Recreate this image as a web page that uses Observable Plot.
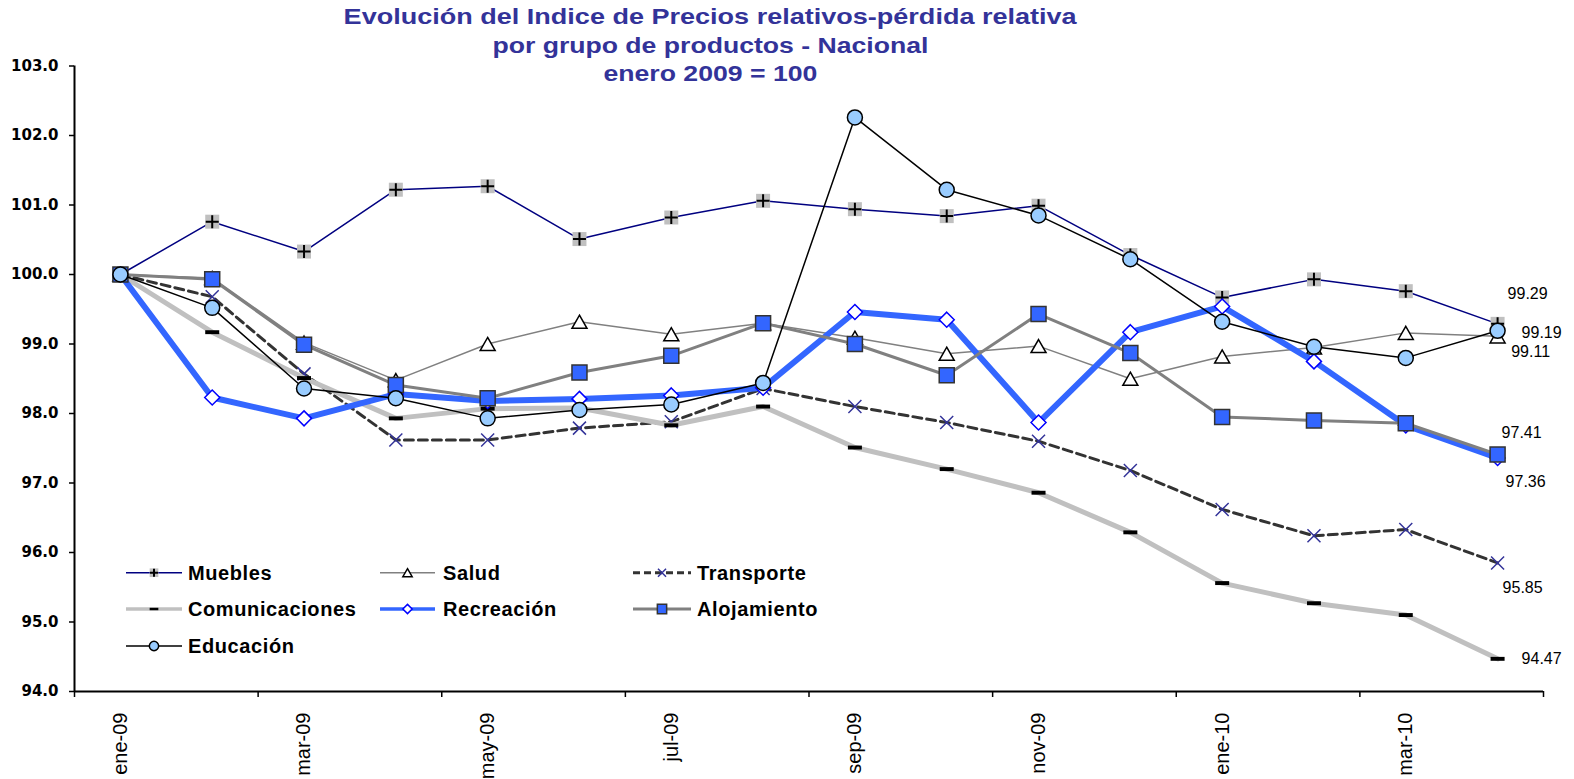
<!DOCTYPE html>
<html><head><meta charset="utf-8">
<script src="https://cdn.jsdelivr.net/npm/d3@7"></script>
<script src="https://cdn.jsdelivr.net/npm/@observablehq/plot@0.6"></script>
<style>
body{margin:0;background:#fff;}
#wrap{position:relative;width:1574px;height:779px;}
#title{position:absolute;left:0;top:3px;width:1420px;text-align:center;font-family:"Liberation Sans",Arial,sans-serif;font-weight:bold;font-size:22.5px;color:#333399;line-height:28.5px;}
#title span{display:inline-block;white-space:nowrap;transform-origin:50% 50%;}
#chart{position:absolute;left:0;top:0;}
</style></head><body>
<div id="wrap"><div id="chart"></div><div id="title"><span data-w="733">Evolución del Indice de Precios relativos-pérdida relativa</span><br><span data-w="436">por grupo de productos - Nacional</span><br><span data-w="214">enero 2009 = 100</span></div></div>
<script>
const months = ["ene-09","feb-09","mar-09","abr-09","may-09","jun-09","jul-09","ago-09","sep-09","oct-09","nov-09","dic-09","ene-10","feb-10","mar-10","abr-10"];
const labelMonths = ["ene-09","mar-09","may-09","jul-09","sep-09","nov-09","ene-10","mar-10"];
const yTicks = [94,95,96,97,98,99,100,101,102,103];

const muebles        = [100, 100.76, 100.33, 101.22, 101.27, 100.51, 100.82, 101.06, 100.94, 100.84, 100.99, 100.28, 99.67, 99.93, 99.76, 99.29];
const salud          = [100, 99.95, 99.02, 98.48, 99.00, 99.32, 99.14, 99.30, 99.09, 98.86, 98.97, 98.50, 98.82, 98.95, 99.16, 99.11];
const transporte     = [100, 99.68, 98.57, 97.62, 97.62, 97.79, 97.88, 98.36, 98.10, 97.87, 97.60, 97.18, 96.62, 96.24, 96.33, 95.85];
const comunicaciones = [100, 99.17, 98.51, 97.93, 98.07, 98.08, 97.83, 98.10, 97.51, 97.20, 96.86, 96.29, 95.56, 95.27, 95.10, 94.47];
const recreacion     = [100, 98.23, 97.93, 98.28, 98.18, 98.21, 98.26, 98.37, 99.46, 99.35, 97.87, 99.17, 99.54, 98.75, 97.83, 97.36];
const alojamiento    = [100, 99.93, 98.99, 98.41, 98.22, 98.59, 98.83, 99.30, 99.00, 98.55, 99.43, 98.87, 97.95, 97.90, 97.86, 97.41];
const educacion      = [100, 99.52, 98.36, 98.22, 97.93, 98.05, 98.13, 98.44, 102.26, 101.22, 100.85, 100.22, 99.32, 98.96, 98.80, 99.19];

const seriesNames = ["Muebles","Salud","Transporte","Comunicaciones","Recreación","Alojamiento","Educación"];
const seriesValues = [muebles, salud, transporte, comunicaciones, recreacion, alojamiento, educacion];

// custom marker symbols
const rad = size => Math.sqrt(size / Math.PI);
const sym = {
  plus: {draw(c, s){const r = rad(s); c.moveTo(-r,0); c.lineTo(r,0); c.moveTo(0,-r); c.lineTo(0,r);}},
  times: {draw(c, s){const r = rad(s); c.moveTo(-r,-r); c.lineTo(r,r); c.moveTo(-r,r); c.lineTo(r,-r);}},
  square: {draw(c, s){const r = rad(s); c.rect(-r,-r,2*r,2*r);}},
  tri: {draw(c, s){const r = rad(s); const h = r*0.87; c.moveTo(0,-h); c.lineTo(r,h); c.lineTo(-r,h); c.closePath();}},
  dash: {draw(c, s){const r = rad(s); c.rect(-r,-r*0.28,2*r,r*0.56);}},
  diamond: {draw(c, s){const r = rad(s); c.moveTo(0,-r); c.lineTo(r,0); c.lineTo(0,r); c.lineTo(-r,0); c.closePath();}},
  circle: {draw(c, s){const r = rad(s); c.moveTo(r,0); c.arc(0,0,r,0,2*Math.PI);}}
};

const styles = {
  "Muebles": {line:{stroke:"#000080", strokeWidth:1.5}, markers:[{symbol:sym.square, r:7, fill:"#c0c0c0", stroke:"none"}, {symbol:sym.plus, r:6.5, fill:"none", stroke:"#000", strokeWidth:2}], label:{dx:30, dy:-30}},
  "Salud": {line:{stroke:"#808080", strokeWidth:1.5}, markers:[{symbol:sym.tri, r:7.5, fill:"#fff", stroke:"#000", strokeWidth:1.5}], label:{dx:33, dy:16}},
  "Transporte": {line:{stroke:"#333333", strokeWidth:3, strokeDasharray:"9,5"}, markers:[{symbol:sym.times, r:6.5, fill:"none", stroke:"#333399", strokeWidth:1.5}], label:{dx:25, dy:25}},
  "Comunicaciones": {line:{stroke:"#c0c0c0", strokeWidth:5}, markers:[{symbol:sym.dash, r:7, fill:"#000", stroke:"none"}], label:{dx:44, dy:0}},
  "Recreación": {line:{stroke:"#3366ff", strokeWidth:6}, markers:[{symbol:sym.diamond, r:7.5, fill:"#fff", stroke:"#0000ff", strokeWidth:1.5}], label:{dx:28, dy:24}},
  "Alojamiento": {line:{stroke:"#808080", strokeWidth:3}, markers:[{symbol:sym.square, r:7.5, fill:"#3366ff", stroke:"#333", strokeWidth:1.5}], label:{dx:24, dy:-22}},
  "Educación": {line:{stroke:"#000", strokeWidth:1.5}, markers:[{symbol:sym.circle, r:7.5, fill:"#99ccff", stroke:"#000", strokeWidth:1.5}], label:{dx:44, dy:2}}
};

const marks = [];
seriesNames.forEach((name, k) => {
  const rows = months.map((m, i) => ({i, v: seriesValues[k][i]}));
  const st = styles[name];
  marks.push(Plot.line(rows, {x:"i", y:"v", ...st.line}));
  st.markers.forEach(mk => marks.push(Plot.dot(rows, {x:"i", y:"v", ...mk})));
});
// end value labels
seriesNames.forEach((name, k) => {
  const last = months.length - 1;
  const st = styles[name];
  marks.push(Plot.text([{i:last, v:seriesValues[k][last]}], {x:"i", y:"v", text: d => d.v.toFixed(2), textAnchor:"middle", fontSize:16, fill:"#000", dx:st.label.dx, dy:st.label.dy}));
});

const xBoundaryTicks = d3.range(-0.5, months.length, 2);
const xLabelTicks = labelMonths.map(m => months.indexOf(m));

const plot = Plot.plot({
  width: 1574, height: 779,
  marginLeft: 74, marginRight: 31, marginTop: 65.5, marginBottom: 88,
  style: {fontFamily: "'Liberation Sans', Arial, sans-serif", background: "#fff", overflow: "visible"},
  x: {type: "linear", domain: [-0.5, months.length - 0.5], axis: null},
  y: {domain: [94, 103], axis: null},
  marks: [
    Plot.axisY({ticks: yTicks, tickFormat: d => d.toFixed(1), tickSize: 5, tickPadding: 11, fontSize: 15, fontWeight: "bold", fontFamily: "'DejaVu Sans', sans-serif", strokeWidth: 1.5, fill: "#000", stroke: "#000", label: null}),
    Plot.axisX({ticks: xBoundaryTicks, tickFormat: () => "", tickSize: 6, strokeWidth: 1.5, stroke: "#000", label: null}),
    Plot.axisX({ticks: xLabelTicks, tickFormat: i => months[i], tickSize: 0, tickPadding: 21, tickRotate: -90, fontSize: 20, fill: "#000", label: null}),
    ...marks,
    Plot.ruleX([-0.5], {stroke: "#000", strokeWidth: 2}),
    Plot.ruleY([94], {stroke: "#000", strokeWidth: 2})
  ]
});
document.getElementById("chart").appendChild(plot);

// legend (inside plot area)
const legendCols = [{x1:126, x2:182, tx:188}, {x1:380, x2:435, tx:443}, {x1:633, x2:691, tx:697}];
const legendRows = [572.7, 609, 646];
const svg = d3.select(plot);
const lg = svg.append("g").attr("aria-label", "legend").attr("text-anchor", "start");
seriesNames.forEach((name, k) => {
  const col = legendCols[k % 3], y = legendRows[Math.floor(k / 3)];
  const st = styles[name];
  const ln = lg.append("line").attr("x1", col.x1).attr("x2", col.x2).attr("y1", y).attr("y2", y)
    .attr("stroke", st.line.stroke).attr("stroke-width", Math.min(st.line.strokeWidth, 3.5));
  if (st.line.strokeDasharray) ln.attr("stroke-dasharray", "7,4");
  st.markers.forEach(mk => {
    const r = mk.r * 0.62;
    lg.append("path").attr("transform", `translate(${(col.x1 + col.x2) / 2},${y})`)
      .attr("d", d3.symbol(mk.symbol, Math.PI * r * r)())
      .attr("fill", mk.fill).attr("stroke", mk.stroke).attr("stroke-width", mk.strokeWidth || 1);
  });
  lg.append("text").attr("x", col.tx).attr("y", y).attr("dy", "0.35em").attr("text-anchor", "start")
    .attr("font-size", 20).attr("font-weight", "bold").attr("letter-spacing", "0.6px").attr("fill", "#000").text(name);
});

// stretch title lines to the reference widths
document.querySelectorAll("#title span").forEach(s => {
  const w = s.getBoundingClientRect().width;
  const target = +s.dataset.w;
  s.style.transform = `scaleX(${target / w})`;
});
</script>
</body></html>
